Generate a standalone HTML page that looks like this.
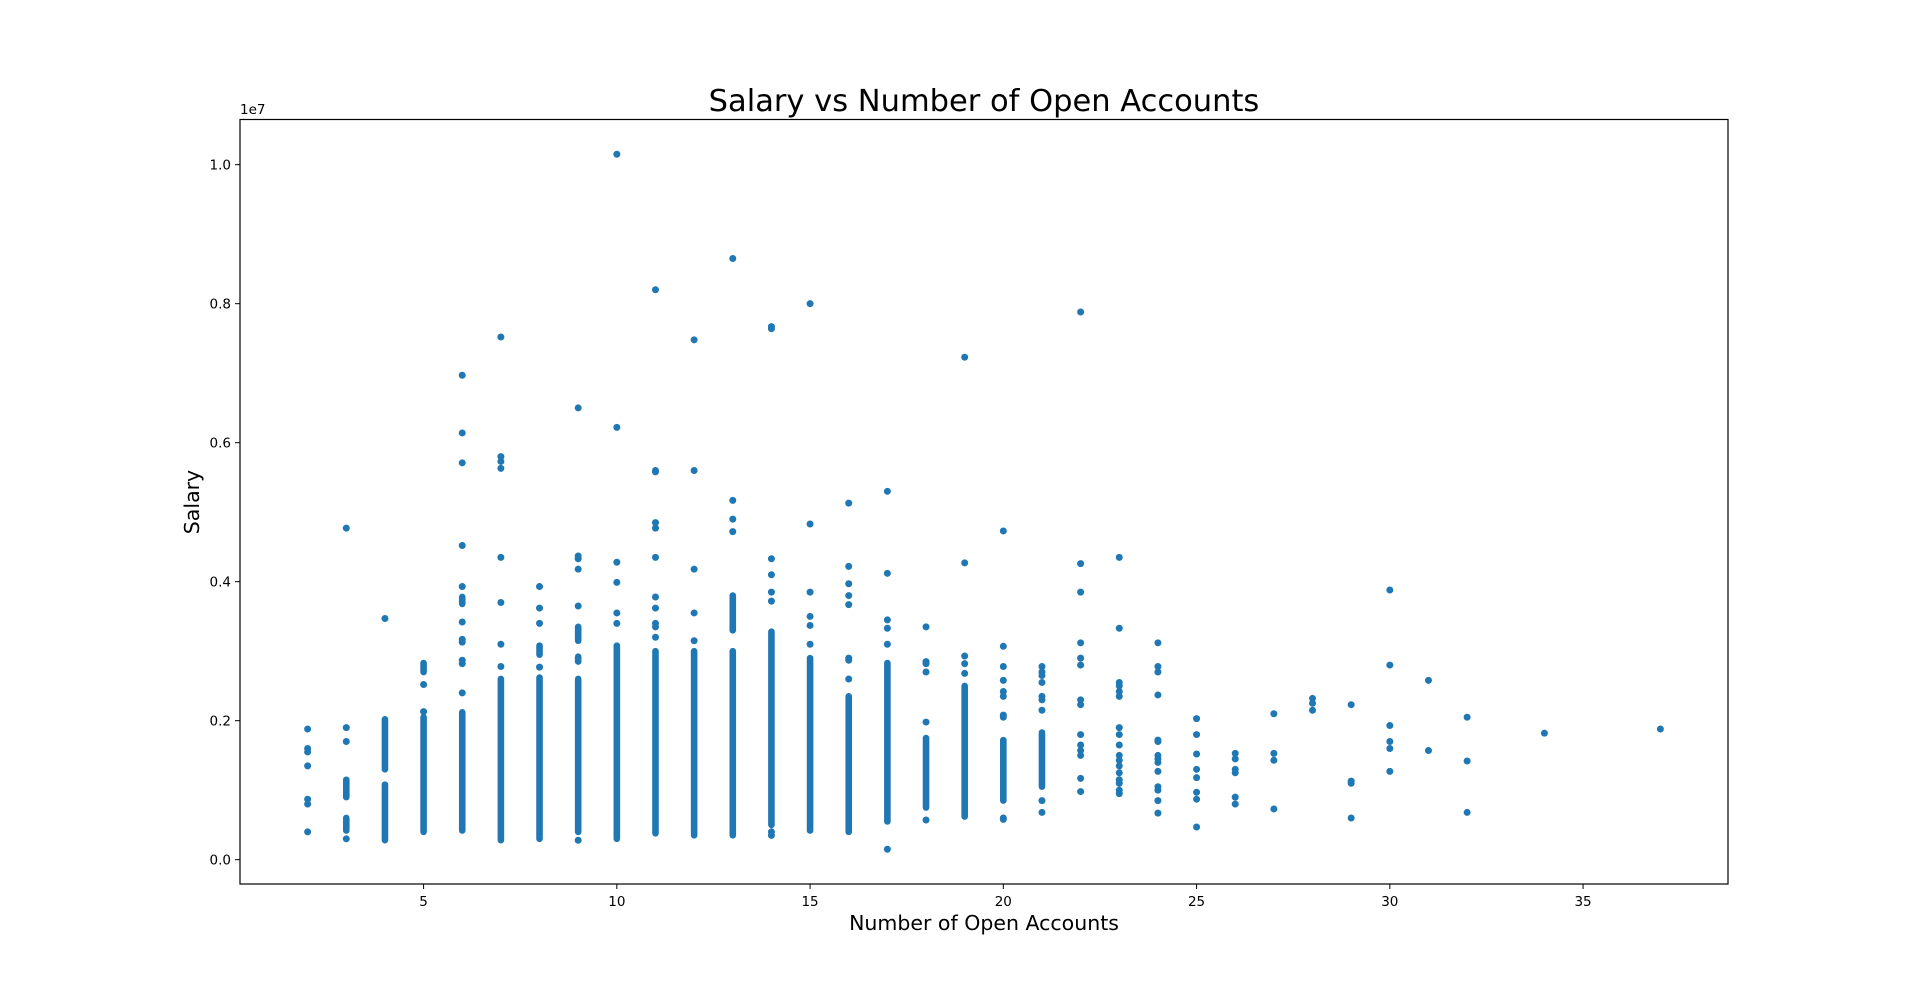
<!DOCTYPE html>
<html><head><meta charset="utf-8"><style>
html,body{margin:0;padding:0;background:#fff;}
svg{display:block;font-family:"DejaVu Sans","Liberation Sans",sans-serif;}
</style></head><body>
<svg id="chart" width="1920" height="993" viewBox="0 0 1920 993" xmlns="http://www.w3.org/2000/svg">
<rect x="0" y="0" width="1920" height="993" fill="#fff"/>
<text x="984" y="111" text-anchor="middle" font-size="30.5" fill="#000">Salary vs Number of Open Accounts</text>
<text x="984" y="930" text-anchor="middle" font-size="20.5" fill="#000">Number of Open Accounts</text>
<text x="0" y="0" transform="translate(199,502) rotate(-90)" text-anchor="middle" font-size="20.5" fill="#000">Salary</text>
<text x="240" y="114" font-size="13.5" fill="#000">1e7</text>
<g id="marks"></g>
<g id="xticks"></g>
<g id="yticks"></g>
<rect x="240" y="119.5" width="1488" height="764.5" fill="none" stroke="#000" stroke-width="1.2"/>
</svg>
<script>
// Values in millions of salary (axis shown in units of 1e7)
const colX = [2,3,4,5,6,7,8,9,10,11,12,13,14,15,16,17,18,19,20,21,22,23,24,25,26,27,28,29,30,31,32,34,37];
const colPoints = [
 [1.88,1.6,1.55,1.35,0.87,0.8,0.4],
 [4.77,1.9,1.7,0.3],
 [3.47],
 [2.52,2.13],
 [6.97,6.14,5.71,4.52,3.93,3.42,3.17,3.13,2.87,2.82,2.4],
 [7.52,5.8,5.73,5.63,4.35,3.7,3.1,2.78],
 [3.93,3.62,3.4,2.77],
 [6.5,4.37,4.33,4.18,3.65,0.28],
 [10.15,6.22,4.28,3.99,3.55,3.4],
 [8.2,5.6,5.58,4.85,4.77,4.35,3.78,3.62,3.4,3.35,3.2],
 [7.48,5.6,4.18,3.55,3.15],
 [8.65,5.17,4.9,4.72],
 [7.67,7.64,4.33,4.1,3.85,3.72,0.4,0.35],
 [8.0,4.83,3.85,3.5,3.37,3.1],
 [5.13,4.22,3.97,3.8,3.67,2.9,2.87,2.6],
 [5.3,4.12,3.45,3.33,3.1,0.15],
 [3.35,2.85,2.82,2.7,1.98,0.57],
 [7.23,4.27,2.93,2.82,2.68],
 [4.73,3.07,2.78,2.58,2.42,2.35,2.08,2.05,0.6,0.58],
 [2.78,2.7,2.65,2.55,2.35,2.3,2.15,0.85,0.68],
 [7.88,4.26,3.85,3.12,2.9,2.8,2.3,2.23,1.8,1.65,1.57,1.5,1.17,0.98],
 [4.35,3.33,2.55,2.5,2.42,2.35,1.9,1.8,1.65,1.5,1.43,1.35,1.25,1.15,1.1,1.0,0.95],
 [3.12,2.78,2.7,2.37,1.72,1.7,1.5,1.45,1.4,1.27,1.05,1.0,0.85,0.67],
 [2.03,1.8,1.52,1.3,1.18,0.97,0.87,0.47],
 [1.53,1.45,1.3,1.25,0.9,0.8],
 [2.1,1.53,1.43,0.73],
 [2.32,2.25,2.15],
 [2.23,1.13,1.1,0.6],
 [3.88,2.8,1.93,1.7,1.6,1.27],
 [2.58,1.57],
 [2.05,1.42,0.68],
 [1.82],
 [1.88]
];
// dense clusters of overlapping points: [x, low, high]
const denseX  = [3,3,4,4,5,5,6,6,7,8,8,9,9,9,10,11,12,13,13,14,15,16,17,18,19,20,21];
const denseLo = [0.9,0.42,1.3,0.28,2.7,0.4,3.68,0.42,0.28,2.95,0.3,3.15,2.85,0.4,0.3,0.38,0.35,3.3,0.35,0.5,0.42,0.4,0.55,0.75,0.62,0.85,1.05];
const denseHi = [1.15,0.6,2.02,1.08,2.83,2.05,3.78,2.12,2.6,3.08,2.62,3.35,2.92,2.6,3.08,3.0,3.0,3.8,3.0,3.28,2.9,2.35,2.83,1.75,2.5,1.72,1.83];
const xTicks = [5,10,15,20,25,30,35];
const yTicks = [0,2,4,6,8,10];
const yTickLabels = ["0.0","0.2","0.4","0.6","0.8","1.0"];

const NS="http://www.w3.org/2000/svg";
const X0=240,X1=1728,Y0=884,Y1=119.5;
const xMin=0.25,xMax=38.75,yMin=-0.35,yMax=10.65;
function sx(v){return X0+(v-xMin)/(xMax-xMin)*(X1-X0);}
function sy(v){return Y0-(v-yMin)/(yMax-yMin)*(Y0-Y1);}
const marks=document.getElementById('marks');
const C="#1f77b4";
for(let i=0;i<denseX.length;i++){
  const l=document.createElementNS(NS,'line');
  l.setAttribute('x1',sx(denseX[i]));l.setAttribute('x2',sx(denseX[i]));
  l.setAttribute('y1',sy(denseLo[i]));l.setAttribute('y2',sy(denseHi[i]));
  l.setAttribute('stroke',C);l.setAttribute('stroke-width',6.6);l.setAttribute('stroke-linecap','round');
  
  
  marks.appendChild(l);
}
for(let i=0;i<colX.length;i++){
  for(const v of colPoints[i]){
    const c=document.createElementNS(NS,'circle');
    c.setAttribute('cx',sx(colX[i]));c.setAttribute('cy',sy(v));c.setAttribute('r',3.5);c.setAttribute('fill',C);
    
    
    marks.appendChild(c);
  }
}
const xg=document.getElementById('xticks');
for(const t of xTicks){
  const l=document.createElementNS(NS,'line');
  l.setAttribute('x1',sx(t));l.setAttribute('x2',sx(t));l.setAttribute('y1',Y0);l.setAttribute('y2',Y0+5);l.setAttribute('stroke','#000');
  
  
  xg.appendChild(l);
  const tx=document.createElementNS(NS,'text');
  tx.setAttribute('x',sx(t));tx.setAttribute('y',Y0+22);tx.setAttribute('text-anchor','middle');tx.setAttribute('font-size','13.5');
  tx.textContent=t;
  
  
  xg.appendChild(tx);
}
const yg=document.getElementById('yticks');
for(let i=0;i<yTicks.length;i++){
  const y=sy(yTicks[i]);
  const l=document.createElementNS(NS,'line');
  l.setAttribute('x1',X0-5);l.setAttribute('x2',X0);l.setAttribute('y1',y);l.setAttribute('y2',y);l.setAttribute('stroke','#000');
  
  
  yg.appendChild(l);
  const tx=document.createElementNS(NS,'text');
  tx.setAttribute('x',X0-9);tx.setAttribute('y',y+5);tx.setAttribute('text-anchor','end');tx.setAttribute('font-size','13.5');
  tx.textContent=yTickLabels[i];
  
  
  yg.appendChild(tx);
}
</script>
</body></html>
